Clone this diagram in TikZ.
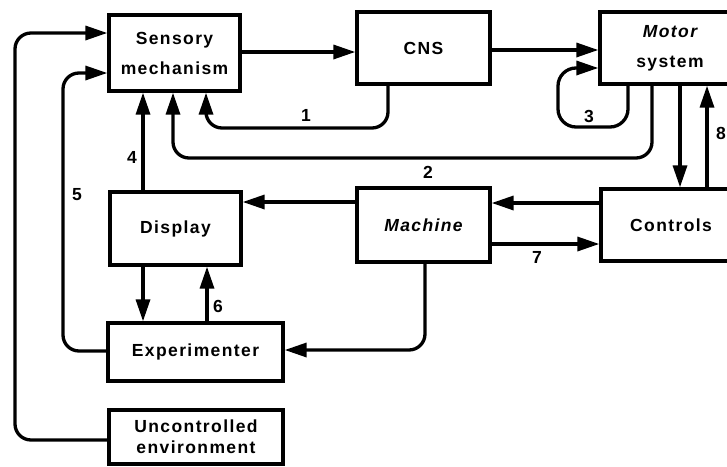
\documentclass[tikz,border=0pt]{standalone}
\usepackage{fontspec}
\setmainfont{Liberation Sans}[LetterSpace=8]
\usetikzlibrary{arrows.meta}
\tikzset{
  every picture/.style={x=1pt,y=-1pt},
  blk/.style={draw,line width=3.3pt,inner sep=0pt,align=center,
    font=\fontsize{17.5}{30}\selectfont\bfseries},
  conn/.style={line width=3.3pt,rounded corners=16pt},
  tip/.style={-{Triangle[length=22pt,width=14pt]}},
  lbl/.style={font=\fontsize{17.5}{18}\selectfont\bfseries,inner sep=0pt}
}
\begin{document}
\begin{tikzpicture}
\clip (0,0) rectangle (727,466);
\fill[white] (0,0) rectangle (727,466);

% blocks
\node[blk,minimum width=131pt,minimum height=76pt] (sens) at (174.5,53) {Sensory\\mechanism};
\node[blk,minimum width=133pt,minimum height=72pt] (cns) at (423.5,48) {CNS};
\node[blk,minimum width=140pt,minimum height=72pt] (motor) at (670,48) {\itshape Motor\\system};
\node[blk,minimum width=131pt,minimum height=73pt] (disp) at (175.5,228.5) {Display};
\node[blk,minimum width=133pt,minimum height=74pt] (mach) at (423.5,225) {\itshape Machine};
\node[blk,minimum width=140pt,minimum height=72pt] (ctrl) at (671,225) {Controls};
\node[blk,minimum width=175pt,minimum height=58pt] (exper) at (195.5,352) {Experimenter};
\node[blk,minimum width=174pt,minimum height=54pt] (env) at (196,437) {Uncontrolled\\[-9pt]environment};

% forward path
\draw[conn,tip] (sens.east |- 0,52) -- (cns.west |- 0,52);
\draw[conn,tip] (cns.east |- 0,50) -- (motor.west |- 0,50);

% feedback loops 1, 2, 3
\draw[conn,tip] (cns.south -| 388,0) |- (206,128) -- (sens.south -| 206,0);
\draw[conn,tip] (motor.south -| 652,0) |- (173,158) -- (sens.south -| 173,0);
\draw[conn,tip,rounded corners=18pt] (motor.south -| 628,0) |- (558,127) |- (motor.west |- 0,68);

% display and experimenter
\draw[conn,tip] (disp.north -| 143,0) -- (sens.south -| 143,0);
\draw[conn,tip] (disp.south -| 143,0) -- (exper.north -| 143,0);
\draw[conn,tip] (exper.north -| 207,0) -- (disp.south -| 207,0);
\draw[conn,tip] (exper.west |- 0,351) -| (63,73) -- (sens.west |- 0,73);
\draw[conn,tip] (env.west |- 0,440) -| (15,33) -- (sens.west |- 0,33);

% machine and controls
\draw[conn,tip] (mach.west |- 0,202) -- (disp.east |- 0,202);
\draw[conn,tip] (ctrl.west |- 0,203) -- (mach.east |- 0,203);
\draw[conn,tip] (mach.east |- 0,244) -- (ctrl.west |- 0,244);
\draw[conn,tip] (mach.south -| 425,0) |- (exper.east |- 0,350);
\draw[conn,tip] (motor.south -| 680,0) -- (ctrl.north -| 680,0);
\draw[conn,tip] (ctrl.north -| 707,0) -- (motor.south -| 707,0);

% loop numbers
\node[lbl] (n1) at (306,115) {1};
\node[lbl] (n2) at (428,172) {2};
\node[lbl] (n3) at (589,116) {3};
\node[lbl] (n4) at (132,157) {4};
\node[lbl] (n5) at (77,195) {5};
\node[lbl] (n6) at (218,306) {6};
\node[lbl] (n7) at (537,257) {7};
\node[lbl] (n8) at (721,133) {8};
\end{tikzpicture}
\end{document}
